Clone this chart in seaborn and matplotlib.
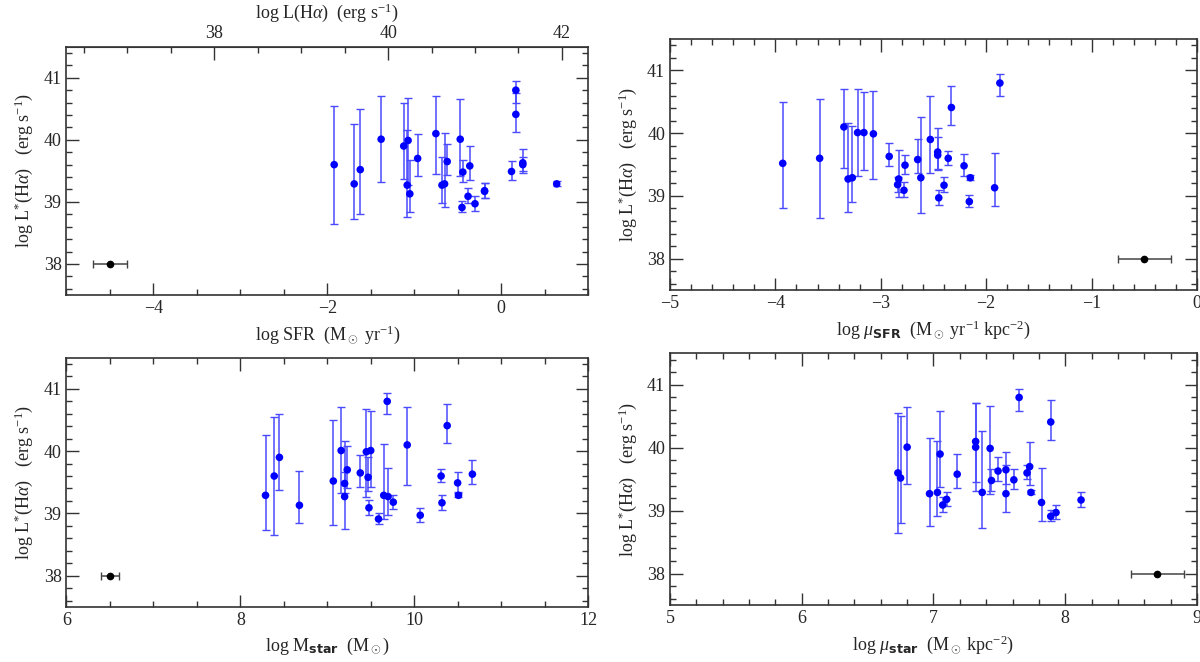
import numpy as np
import pandas as pd
import matplotlib
matplotlib.use("Agg")
import matplotlib.pyplot as plt
import seaborn as sns
from matplotlib.ticker import MultipleLocator

# log L*(Halpha) with lower / upper bounds, same galaxies in every panel
lum = [39.60, 39.29, 39.52, 40.01, 39.90, 39.27, 39.99, 39.13, 39.70, 40.10, 39.27, 39.29, 39.65, 40.01,
       38.91, 39.48, 39.09, 39.58, 38.97, 39.18, 39.17, 39.49, 40.80, 40.41, 39.63, 39.60, 39.29]
lum_lo = [38.65, 38.73, 38.81, 39.32, 39.37, 38.75, 39.27, 38.84, 39.41, 39.45, 38.98, 38.91, 39.43, 39.42,
          38.83, 39.32, 38.98, 39.36, 38.86, 39.07, 39.06, 39.35, 40.59, 40.13, 39.47, 39.50, 39.26]
lum_hi = [40.55, 40.26, 40.50, 40.71, 40.59, 40.16, 40.67, 39.68, 40.09, 40.71, 39.73, 40.11, 39.94, 40.65,
          39.01, 39.67, 39.22, 39.90, 39.09, 39.30, 39.30, 39.66, 40.94, 40.76, 39.85, 39.72, 39.33]

# x quantities
log_sfr = [-1.92, -1.69, -1.62, -1.38, -1.12, -1.08, -1.07, -1.05, -0.96, -0.75, -0.68, -0.65, -0.62, -0.47,
           -0.45, -0.44, -0.38, -0.36, -0.30, -0.19, -0.19, 0.12, 0.17, 0.17, 0.25, 0.25, 0.64]
log_mu_sfr = [-3.58, -2.62, -3.93, -3.22, -2.53, -3.31, -3.07, -1.92, -2.46, -3.35, -2.83, -3.27, -2.46, -3.16,
              -2.16, -2.21, -2.78, -2.65, -2.45, -2.84, -2.40, -2.77, -1.87, -2.33, -2.92, -2.36, -2.15]
log_mstar = [8.39, 8.29, 9.07, 9.16, 8.45, 9.20, 9.45, 8.68, 9.23, 9.92, 9.70, 9.65, 9.38, 9.50,
             9.59, 9.20, 9.48, 9.47, 10.07, 9.76, 10.32, 10.50, 9.69, 10.38, 10.67, 10.31, 10.51]
log_mu_star = [6.73, 7.37, 6.75, 7.32, 7.05, 6.97, 7.43, 7.82, 7.73, 7.32, 7.55, 7.03, 7.55, 6.80,
               7.89, 7.44, 7.07, 7.18, 7.93, 7.10, 8.12, 7.61, 7.65, 7.89, 7.49, 7.71, 7.74]

# typical error shown in each panel: (x, xerr)
typ_err = {"sfr": (-4.5, 0.2), "mu_sfr": (-0.5, 0.25), "mstar": (6.5, 0.1), "mu_star": (8.7, 0.2)}

lha_offset = 41.3  # log L(Halpha) = log SFR + offset

sns.set_style("ticks")
plt.rcParams['font.family'] = ['Liberation Serif', 'DejaVu Serif']
plt.rcParams['mathtext.fontset'] = 'custom'
plt.rcParams['mathtext.rm'] = 'Liberation Serif'
plt.rcParams['mathtext.it'] = 'Liberation Serif:italic'
plt.rcParams['mathtext.sf'] = 'DejaVu Sans:bold'
plt.rcParams['axes.edgecolor'] = '#333333'

df = pd.DataFrame({"lum": lum, "lo": lum_lo, "hi": lum_hi, "sfr": log_sfr, "mu_sfr": log_mu_sfr,
                   "mstar": log_mstar, "mu_star": log_mu_star})
yerr = np.array([df["lum"] - df["lo"], df["hi"] - df["lum"]])

fig = plt.figure(figsize=(12, 6.62), dpi=100)
panels = [
    ("sfr", [0.0554, 0.5544, 0.4346, 0.375], (-5, 1), 2, 0.5, r'log SFR  (M$_\odot$ yr$^{-1}$)'),
    ("mu_sfr", [0.5583, 0.5619, 0.4392, 0.379], (-5, 0), 1, 0.2,
     r'log $\mu_{\mathsf{SFR}}$  (M$_\odot$ yr$^{-1}$ kpc$^{-2}$)'),
    ("mstar", [0.0554, 0.0835, 0.4346, 0.376], (6, 12), 2, 0.5, r'log M$_{\mathsf{star}}$  (M$_\odot$)'),
    ("mu_star", [0.5583, 0.0861, 0.4392, 0.380], (5, 9), 1, 0.2,
     r'log $\mu_{\mathsf{star}}$  (M$_\odot$ kpc$^{-2}$)'),
]

for col, pos, xlim, major, minor, xlabel in panels:
    ax = fig.add_axes(pos)
    ax.errorbar(df[col], df["lum"], yerr=yerr, fmt='none', ecolor='#4a4aff', elinewidth=1.1,
                capsize=2.6, capthick=1.0, zorder=2)
    sns.scatterplot(data=df, x=col, y="lum", ax=ax, color='#0000ff', s=30, edgecolor='none', zorder=3)
    tx, txe = typ_err[col]
    ax.errorbar([tx], [38.0], xerr=[txe], fmt='o', color='black', ecolor='#444444', ms=4.5,
                elinewidth=1.1, capsize=2.6, zorder=3)
    ax.set_xlim(*xlim)
    ax.set_ylim(37.5, 41.5)
    ax.xaxis.set_major_locator(MultipleLocator(major))
    ax.xaxis.set_minor_locator(MultipleLocator(minor))
    ax.yaxis.set_major_locator(MultipleLocator(1))
    ax.yaxis.set_minor_locator(MultipleLocator(0.2))
    top = col != "sfr"
    ax.tick_params(which='both', direction='in', top=top, right=True, labelsize=13, color='#333333')
    ax.tick_params(which='major', length=9, width=1.0)
    ax.tick_params(which='minor', length=4.5, width=1.0)
    ax.set_xlabel(xlabel, fontsize=13, labelpad=5)
    ax.set_ylabel(r'log L$^{*}$(H$\alpha$)   (erg s$^{-1}$)', fontsize=13, labelpad=6)
    for sp in ax.spines.values():
        sp.set_linewidth(1.2)
    if col == "sfr":
        sec = ax.secondary_xaxis('top', functions=(lambda v: v + lha_offset, lambda v: v - lha_offset))
        sec.xaxis.set_major_locator(MultipleLocator(2))
        sec.xaxis.set_minor_locator(MultipleLocator(0.5))
        sec.tick_params(which='both', direction='in', labelsize=13, color='#333333')
        sec.tick_params(which='major', length=9, width=1.0)
        sec.tick_params(which='minor', length=4.5, width=1.0)
        sec.set_xlabel(r'log L(H$\alpha$)  (erg s$^{-1}$)', fontsize=13, labelpad=5)

fig.savefig("out.png", dpi=100)
